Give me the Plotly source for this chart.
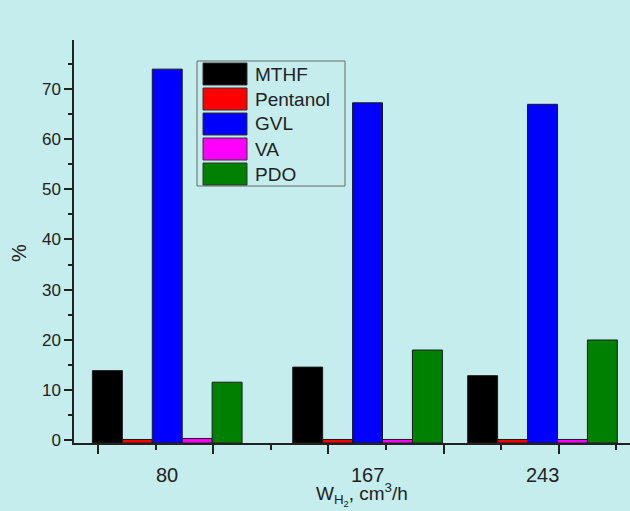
import plotly.graph_objects as go

# Hydrogen flow rates (cm3/h) and product distribution (%)
FLOW_RATES = [80, 167, 243]
SERIES_NAMES = ["MTHF", "Pentanol", "GVL", "VA", "PDO"]
MTHF = [13.9, 14.6, 12.9]
PENTANOL = [0.2, 0.2, 0.2]
GVL = [73.9, 67.2, 66.9]
VA = [0.4, 0.2, 0.2]
PDO = [11.6, 18.0, 20.0]
SERIES_VALUES = [MTHF, PENTANOL, GVL, VA, PDO]
SERIES_COLORS = ["#000000", "#FF0000", "#0000FF", "#FF00FF", "#008000"]

BG = "rgb(197,237,237)"
INK = "#222222"
FONT = "Liberation Sans, Arial, sans-serif"

W, H = 630, 511
M_L, M_R, M_T, M_B = 74, 0, 40, 68
Y_RANGE = [-0.5, 79.7]
X_RANGE = [39.5, 281]
BAR_W = 13  # bar width in axis units

PLOT_W = W - M_L - M_R
PLOT_H = H - M_T - M_B


def px_x(px):
    return (px - M_L) / PLOT_W


def px_y(py):
    return (H - M_B - py) / PLOT_H


fig = go.Figure()
n = len(SERIES_NAMES)
for i, (name, vals, color) in enumerate(zip(SERIES_NAMES, SERIES_VALUES, SERIES_COLORS)):
    fig.add_trace(go.Bar(
        name=name,
        x=FLOW_RATES,
        y=[v - Y_RANGE[0] for v in vals],
        base=Y_RANGE[0],
        width=BAR_W,
        offset=-BAR_W * n / 2 + BAR_W * i,
        marker=dict(color=color, line=dict(color="#1a1a1a", width=1)),
        customdata=vals,
        hovertemplate="%{customdata}%<extra>" + name + "</extra>",
        showlegend=False,
    ))

annotations = []
# category labels under each group
for v in FLOW_RATES:
    annotations.append(dict(
        x=v, xref="x", y=0, yref="paper", yanchor="top", yshift=-19,
        text=str(v), showarrow=False,
        font=dict(size=20, color=INK, family=FONT),
    ))

# axis titles
annotations.append(dict(
    x=px_x(362), xref="paper", y=px_y(494), yref="paper",
    xanchor="center", yanchor="middle",
    text="W<sub>H<sub>2</sub></sub>, cm<sup>3</sup>/h", showarrow=False,
    font=dict(size=19, color=INK, family=FONT),
))
annotations.append(dict(
    x=px_x(19), xref="paper", y=px_y(253), yref="paper",
    xanchor="center", yanchor="middle", textangle=-90,
    text="%", showarrow=False,
    font=dict(size=20, color=INK, family=FONT),
))

# legend box with colour swatches
shapes = [dict(
    type="rect", xref="paper", yref="paper",
    x0=px_x(197), x1=px_x(345), y0=px_y(186), y1=px_y(61),
    line=dict(color="#666666", width=1), fillcolor="rgba(0,0,0,0)",
)]
for i, (name, color) in enumerate(zip(SERIES_NAMES, SERIES_COLORS)):
    cy = 74 + 25 * i
    shapes.append(dict(
        type="rect", xref="paper", yref="paper",
        x0=px_x(203), x1=px_x(247), y0=px_y(cy + 11), y1=px_y(cy - 11),
        line=dict(color="#333333", width=1), fillcolor=color,
    ))
    annotations.append(dict(
        x=px_x(253), xref="paper", y=px_y(cy), yref="paper",
        xanchor="left", yanchor="middle", text=name, showarrow=False,
        font=dict(size=19, color=INK, family=FONT),
    ))

fig.update_layout(
    width=W, height=H,
    margin=dict(l=M_L, r=M_R, t=M_T, b=M_B, pad=0),
    paper_bgcolor=BG, plot_bgcolor=BG,
    barmode="overlay",
    font=dict(family=FONT, color=INK),
    xaxis=dict(
        range=X_RANGE, showgrid=False, zeroline=False,
        showline=True, linecolor=INK, linewidth=1.5,
        tickmode="linear", tick0=0, dtick=50,
        ticks="outside", ticklen=9, tickwidth=1.5, tickcolor=INK,
        showticklabels=False,
        minor=dict(tick0=0, dtick=25, ticks="outside", ticklen=5,
                   tickwidth=1.5, tickcolor=INK, showgrid=False),
    ),
    yaxis=dict(
        range=Y_RANGE, showgrid=False, zeroline=False,
        showline=True, linecolor=INK, linewidth=1.5,
        tickmode="linear", tick0=0, dtick=10,
        ticks="outside", ticklen=8, tickwidth=1.5, tickcolor=INK,
        tickfont=dict(size=17, color=INK, family=FONT),
        minor=dict(tick0=0, dtick=5, ticks="outside", ticklen=4,
                   tickwidth=1.5, tickcolor=INK, showgrid=False),
    ),
    shapes=shapes,
    annotations=annotations,
)

fig.write_html("out.html")
